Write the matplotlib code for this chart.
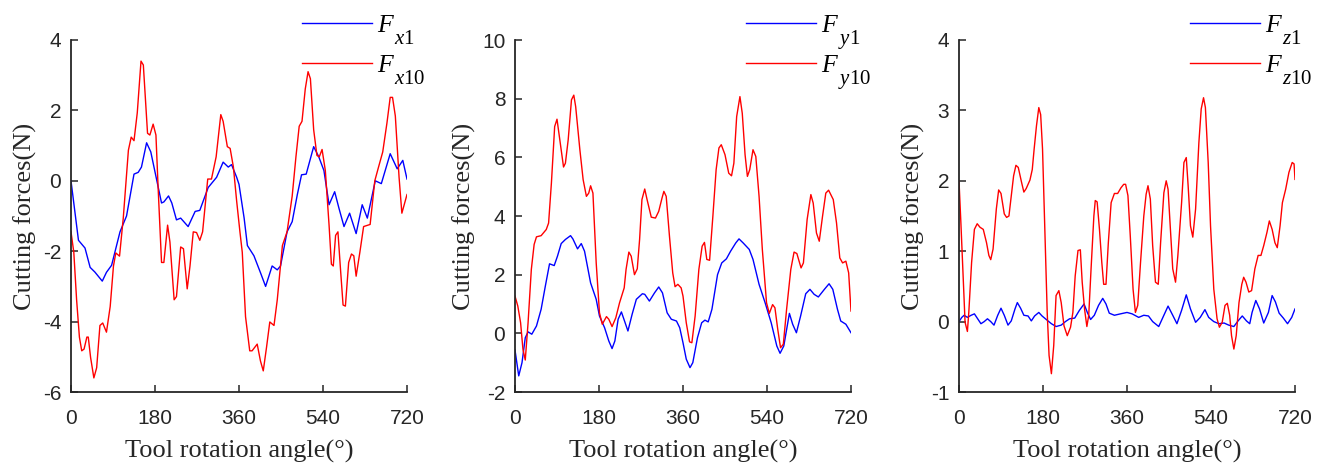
import matplotlib
matplotlib.use("Agg")
import matplotlib.pyplot as plt
import numpy as np

plt.rcParams['mathtext.fontset'] = 'custom'
plt.rcParams['mathtext.it'] = 'Liberation Serif:italic'
plt.rcParams['mathtext.rm'] = 'Liberation Serif'
plt.rcParams['axes.unicode_minus'] = False

# ---------------- data ----------------
fx1_ang = [0, 16, 30, 41, 51, 67, 76, 87, 105, 119, 135, 144, 151, 162, 171, 184, 194, 199, 209, 216,
           226, 235, 251, 266, 276, 294, 312, 326, 337, 344, 355, 360, 371, 378, 392, 406, 417, 431, 442,
           449, 463, 474, 485, 494, 504, 520, 531, 542, 553, 565, 574, 585, 597, 611, 624, 635, 652, 665,
           684, 699, 711, 720]
fx1_val = [0, -1.69, -1.91, -2.46, -2.59, -2.85, -2.6, -2.4, -1.45, -1.0, 0.19, 0.24, 0.39, 1.08, 0.82,
           0, -0.63, -0.6, -0.43, -0.63, -1.11, -1.06, -1.30, -0.87, -0.84, -0.19, 0.1, 0.53, 0.39, 0.46,
           0.1, -0.1, -1.06, -1.84, -2.13, -2.61, -3.0, -2.42, -2.53, -2.42, -1.45, -1.16, -0.39, 0.17,
           0.19, 0.97, 0.68, 0.29, -0.68, -0.31, -0.77, -1.3, -0.92, -1.5, -0.68, -1.06, 0, -0.08, 0.77,
           0.34, 0.58, 0.05]

fx10_ang = [0, 6, 12, 18, 23, 28, 34, 37, 42, 49, 55, 62, 68, 76, 84, 91, 96, 104, 112, 123, 129, 135,
            142, 150, 155, 164, 169, 176, 182, 187, 194, 199, 207, 212, 221, 226, 235, 241, 249, 255, 262,
            269, 276, 282, 293, 301, 311, 321, 326, 335, 341, 348, 355, 362, 367, 374, 383, 388, 399, 406,
            412, 419, 426, 435, 442, 453, 463, 474, 482, 489, 495, 502, 508, 513, 520, 527, 532, 538, 545,
            553, 558, 562, 567, 572, 577, 583, 588, 595, 601, 606, 611, 619, 627, 641, 651, 659, 668, 677,
            684, 689, 695, 703, 709, 714, 720]
fx10_val = [-1.45, -2.03, -3.38, -4.44, -4.83, -4.78, -4.44, -4.44, -5.02, -5.6, -5.31, -4.11, -4.04,
            -4.3, -3.57, -2.42, -2.05, -2.14, -1.06, 0.87, 1.24, 1.14, 1.93, 3.4, 3.29, 1.35, 1.3, 1.61,
            1.3, -0.29, -2.32, -2.32, -1.26, -1.74, -3.38, -3.29, -1.88, -1.93, -3.07, -2.42, -1.45,
            -1.47, -1.69, -1.45, 0.05, 0.05, 0.68, 1.88, 1.69, 0.97, 0.92, 0.39, -0.58, -1.45, -2.03,
            -3.86, -4.83, -4.83, -4.64, -5.12, -5.4, -4.73, -4.01, -4.11, -3.38, -1.84, -1.45, -0.43,
            0.68, 1.55, 1.69, 2.61, 3.1, 2.9, 1.45, 0.72, 0.68, 0.89, 0.29, -1.26, -2.37, -2.42, -1.55,
            -1.45, -2.42, -3.53, -3.56, -2.32, -2.08, -2.13, -2.71, -2.03, -1.3, -1.24, 0, 0.39, 0.82,
            1.64, 2.37, 2.37, 1.84, 0.1, -0.92, -0.68, -0.39]

fy1_ang = [0, 8, 15, 22, 28, 36, 46, 56, 65, 74, 84, 91, 99, 108, 119, 124, 134, 142, 149, 162, 174,
           181, 192, 201, 208, 214, 221, 228, 236, 242, 251, 260, 273, 278, 288, 299, 308, 316, 326, 335,
           346, 353, 360, 367, 375, 381, 391, 400, 407, 414, 422, 434, 443, 453, 462, 473, 480, 489, 502,
           510, 523, 536, 549, 561, 568, 576, 588, 595, 603, 612, 623, 632, 641, 650, 663, 673, 681, 691,
           698, 709, 720]
fy1_val = [-0.57, -1.45, -1.0, -0.15, 0.05, -0.03, 0.25, 0.82, 1.61, 2.37, 2.31, 2.63, 3.06, 3.2, 3.33,
           3.22, 2.88, 3.06, 2.8, 1.72, 1.16, 0.59, 0.19, -0.26, -0.52, -0.26, 0.48, 0.73, 0.36, 0.08,
           0.65, 1.16, 1.35, 1.33, 1.1, 1.38, 1.58, 1.38, 0.7, 0.48, 0.42, 0.19, -0.32, -0.88, -1.17,
           -1.0, -0.15, 0.36, 0.45, 0.39, 0.82, 2.0, 2.4, 2.54, 2.8, 3.08, 3.22, 3.08, 2.86, 2.52, 1.67,
           1.04, 0.36, -0.43, -0.68, -0.43, 0.68, 0.31, 0.02, 0.59, 1.35, 1.5, 1.33, 1.24, 1.5, 1.69,
           1.5, 0.82, 0.42, 0.31, 0.02]

fy10_ang = [0, 6, 12, 17, 22, 28, 35, 41, 46, 56, 67, 72, 78, 85, 90, 96, 104, 108, 114, 121, 126, 130,
            139, 146, 153, 158, 162, 167, 174, 181, 187, 196, 201, 208, 216, 224, 234, 238, 244, 249, 256,
            262, 267, 272, 278, 283, 292, 301, 308, 315, 319, 324, 331, 338, 343, 349, 356, 360, 367, 374,
            379, 386, 394, 401, 406, 411, 417, 424, 431, 437, 442, 450, 458, 464, 469, 475, 482, 487, 493,
            498, 503, 510, 516, 523, 530, 539, 545, 552, 557, 563, 569, 575, 582, 591, 598, 604, 613, 618,
            626, 634, 639, 646, 652, 659, 666, 672, 682, 689, 696, 702, 709, 715, 720]
fy10_val = [1.27, 0.93, 0.36, -0.54, -0.91, 0.36, 2.18, 3.03, 3.29, 3.33, 3.54, 3.76, 5.12, 7.05, 7.3,
            6.6, 5.67, 5.8, 6.6, 7.96, 8.12, 7.73, 6.26, 5.24, 4.67, 4.78, 5.03, 4.78, 2.4, 0.7, 0.31,
            0.57, 0.48, 0.23, 0.53, 1.04, 1.55, 2.18, 2.77, 2.63, 2.0, 2.2, 3.2, 4.56, 4.92, 4.56, 3.96,
            3.93, 4.16, 4.61, 4.84, 4.67, 3.31, 2.06, 1.59, 1.67, 1.55, 1.27, 0.36, -0.29, -0.32, 0.59,
            2.18, 2.97, 3.1, 2.52, 2.49, 3.99, 5.58, 6.32, 6.43, 6.09, 5.46, 5.37, 5.8, 7.39, 8.07, 7.5,
            6.09, 5.35, 5.58, 6.26, 6.03, 4.67, 2.86, 1.04, 0.68, 0.98, 0.87, 0.14, -0.49, -0.37, 0.82,
            2.18, 2.77, 2.72, 2.23, 2.4, 3.88, 4.73, 4.44, 3.42, 3.14, 3.99, 4.78, 4.88, 4.56, 3.76,
            2.57, 2.4, 2.46, 2.06, 0.76]

fz1_ang = [0, 6, 11, 18, 26, 33, 40, 47, 54, 61, 68, 75, 83, 90, 97, 105, 112, 120, 125, 132, 139, 148,
           155, 162, 171, 178, 187, 198, 208, 219, 228, 237, 248, 258, 268, 275, 282, 290, 299, 308, 315,
           322, 333, 346, 360, 371, 385, 396, 406, 415, 428, 439, 448, 458, 467, 477, 487, 496, 507, 517,
           527, 535, 546, 557, 568, 578, 589, 598, 607, 616, 623, 628, 636, 644, 653, 663, 671, 678, 686,
           695, 704, 713, 720]
fz1_val = [0, 0.06, 0.09, 0.06, 0.09, 0.11, 0.04, -0.03, 0, 0.04, 0, -0.05, 0.09, 0.19, 0.09, -0.05,
           0.01, 0.18, 0.27, 0.19, 0.09, 0.08, 0.01, 0.08, 0.13, 0.08, 0.03, -0.03, -0.07, -0.05, 0,
           0.04, 0.05, 0.16, 0.25, 0.13, 0.03, 0.09, 0.23, 0.33, 0.25, 0.12, 0.09, 0.11, 0.13, 0.11,
           0.06, 0.09, 0.08, 0, -0.07, 0.09, 0.22, 0.09, -0.03, 0.16, 0.38, 0.18, -0.01, 0.06, 0.17,
           0.06, 0, -0.03, -0.02, -0.05, -0.07, 0.01, 0.08, 0.01, -0.03, 0.13, 0.30, 0.18, -0.02, 0.13,
           0.37, 0.28, 0.12, 0.05, -0.03, 0.06, 0.18]

fz10_ang = [0, 4, 9, 13, 18, 21, 27, 33, 39, 45, 52, 59, 64, 68, 73, 80, 85, 90, 97, 102, 107, 112, 117,
            122, 127, 134, 139, 144, 152, 157, 161, 166, 171, 175, 179, 184, 189, 193, 198, 203, 208, 214,
            219, 225, 232, 239, 244, 249, 255, 260, 264, 269, 274, 278, 283, 289, 292, 296, 301, 306, 310,
            315, 320, 326, 333, 340, 347, 353, 357, 362, 367, 373, 378, 383, 389, 396, 401, 405, 410, 415,
            421, 427, 432, 439, 444, 448, 453, 458, 464, 469, 477, 482, 487, 491, 496, 501, 507, 514, 519,
            524, 528, 534, 539, 546, 553, 558, 564, 570, 575, 580, 584, 589, 594, 600, 606, 610, 615, 621,
            627, 634, 641, 647, 653, 660, 665, 671, 677, 682, 688, 693, 700, 707, 714, 718, 720]
fz10_val = [2.0, 1.41, 0.6, -0.01, -0.14, 0.13, 0.84, 1.31, 1.39, 1.34, 1.31, 1.12, 0.94, 0.88, 1.03,
            1.6, 1.87, 1.82, 1.53, 1.48, 1.5, 1.79, 2.07, 2.22, 2.19, 1.98, 1.84, 1.89, 2.01, 2.16, 2.45,
            2.78, 3.04, 2.94, 2.45, 1.27, 0.13, -0.48, -0.74, -0.34, 0.37, 0.44, 0.27, -0.06, -0.2, -0.08,
            0.13, 0.65, 1.01, 1.02, 0.56, 0.18, -0.07, 0.09, 0.75, 1.5, 1.72, 1.7, 1.31, 0.84, 0.53, 0.53,
            1.12, 1.69, 1.82, 1.82, 1.9, 1.95, 1.95, 1.79, 1.22, 0.46, 0.13, 0.23, 0.84, 1.5, 1.81, 1.93,
            1.74, 1.08, 0.56, 0.53, 1.12, 1.83, 2.0, 1.88, 1.31, 0.75, 0.56, 0.94, 1.69, 2.26, 2.33, 1.93,
            1.36, 1.2, 1.6, 2.54, 3.02, 3.18, 3.04, 2.26, 1.36, 0.46, 0.04, -0.08, -0.01, 0.23, 0.26,
            0.09, -0.2, -0.39, -0.2, 0.27, 0.53, 0.63, 0.56, 0.42, 0.44, 0.75, 0.94, 0.94, 1.08, 1.27,
            1.43, 1.31, 1.12, 1.05, 1.36, 1.69, 1.88, 2.12, 2.26, 2.24, 2.02]

x_ticks = [0, 180, 360, 540, 720]
panels = [
    dict(a1=fx1_ang, v1=fx1_val, a10=fx10_ang, v10=fx10_val, subs=['$x$1', '$x$10'],
         ylim=(-6, 4), yticks=[-6, -4, -2, 0, 2, 4]),
    dict(a1=fy1_ang, v1=fy1_val, a10=fy10_ang, v10=fy10_val, subs=['$y$1', '$y$10'],
         ylim=(-2, 10), yticks=[-2, 0, 2, 4, 6, 8, 10]),
    dict(a1=fz1_ang, v1=fz1_val, a10=fz10_ang, v10=fz10_val, subs=['$z$1', '$z$10'],
         ylim=(-1, 4), yticks=[-1, 0, 1, 2, 3, 4]),
]

W, H = 1323, 465
fig = plt.figure(figsize=(W / 100, H / 100), dpi=100)
lefts = [71, 515, 959]
ax_w, ax_top, ax_bot = 336, 40, 392
TXT = '#262626'

for left, p in zip(lefts, panels):
    ax = fig.add_axes([left / W, 1 - ax_bot / H, ax_w / W, (ax_bot - ax_top) / H])
    ax.plot(p['a1'], p['v1'], color='#0000ff', lw=1.0, label='F')
    ax.plot(p['a10'], p['v10'], color='#ff0000', lw=1.0, label='F')
    ax.set_xlim(0, 720)
    ax.set_ylim(*p['ylim'])
    ax.set_xticks(x_ticks)
    ax.set_yticks(p['yticks'])
    for s in ['top', 'right']:
        ax.spines[s].set_visible(False)
    for s in ['left', 'bottom']:
        ax.spines[s].set_linewidth(1.3)
        ax.spines[s].set_color(TXT)
    ax.tick_params(direction='in', length=5, width=1.1, colors=TXT, labelsize=15,
                   labelcolor=TXT)
    ax.tick_params(axis='x', pad=12)
    ax.tick_params(axis='y', pad=7)
    for lbl in ax.get_xticklabels() + ax.get_yticklabels():
        lbl.set_family('Liberation Sans')
    ax.set_xlabel('Tool rotation angle(°)', family='Liberation Serif', fontsize=19,
                  color=TXT, labelpad=9)
    ax.set_ylabel('Cutting forces(N)', family='Liberation Serif', fontsize=19,
                  color=TXT, labelpad=4)
    leg = ax.legend(loc='upper left', bbox_to_anchor=(0.6875, 1.075), frameon=False,
                    prop={'family': 'Liberation Serif', 'style': 'italic', 'size': 18.5},
                    handlelength=2.72, handletextpad=0.2, labelspacing=0.68, borderpad=0,
                    borderaxespad=0)
    leg.set_zorder(5)
    for t, sub in zip(leg.get_texts(), p['subs']):
        t.set_color('black')
        ann = ax.annotate(sub, xy=(1, 0), xycoords=t, xytext=(1, -7), textcoords='offset pixels',
                          va='baseline', ha='left', fontsize=15, family='Liberation Serif',
                          color='black', annotation_clip=False)
        ann.set_zorder(10)

fig.savefig('out.png', dpi=100)
